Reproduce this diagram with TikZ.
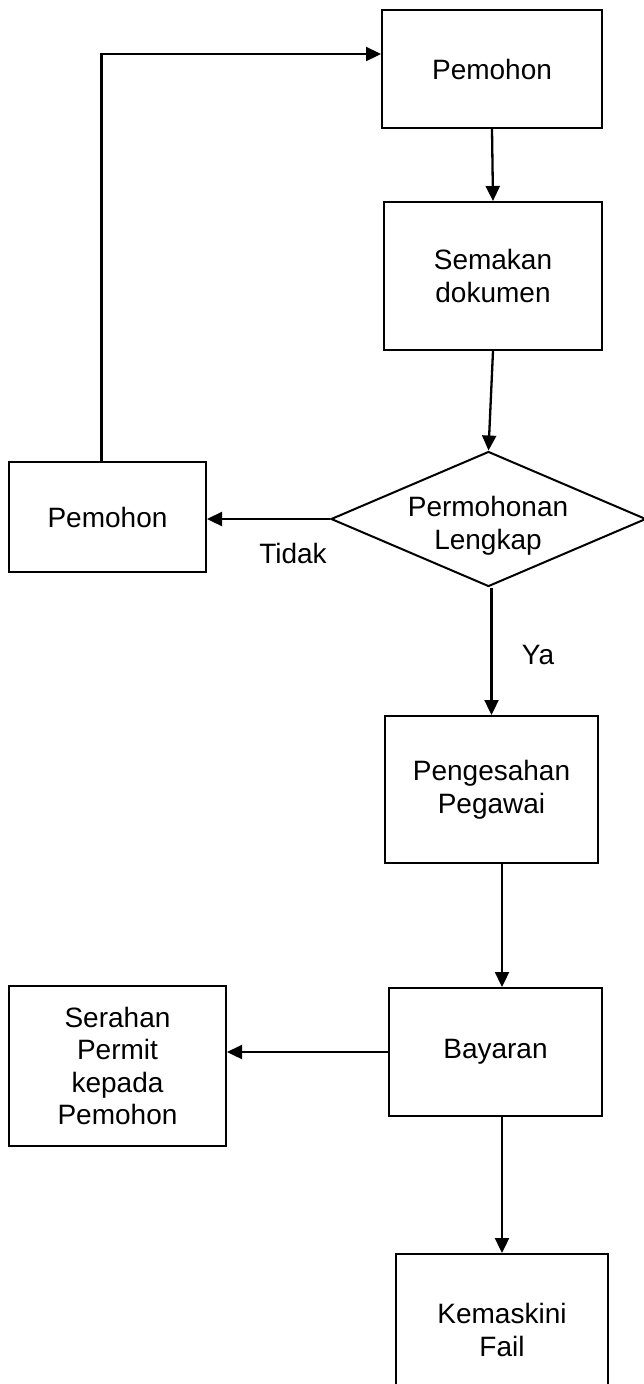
\documentclass[tikz,border=0pt]{standalone}
\usepackage{fontspec}
\setmainfont{Liberation Sans}
\usetikzlibrary{arrows.meta,shapes.geometric}
\begin{document}
\begin{tikzpicture}[x=1pt,y=-1pt,
  txt/.style={font=\fontsize{28}{32.5}\selectfont,align=center},
  box/.style={txt,draw,line width=2pt,rectangle,inner sep=0pt},
  dec/.style={draw,line width=2pt,diamond,inner sep=0pt},
  conn/.style={line width=2.3pt,-{Triangle[length=15pt,width=14pt]}}]
\clip (0,0) rectangle (644,1384);
\fill[white] (0,0) rectangle (644,1384);
% nodes
\node[box,minimum width=220pt,minimum height=118pt] (p1) at (492,69) {Pemohon};
\node[box,minimum width=218pt,minimum height=148pt] (sem) at (493,276) {Semakan\\dokumen};
\node[dec,minimum width=315pt,minimum height=135pt] (dia) at (488.5,519) {};
\node[txt] (diatext) at (488,526) {Permohonan\\Lengkap};
\node[box,minimum width=197pt,minimum height=110pt] (p2) at (107.5,517) {Pemohon};
\node[box,minimum width=213pt,minimum height=147pt] (pen) at (491.5,789.5) {Pengesahan\\Pegawai};
\node[box,minimum width=213pt,minimum height=128pt] (bay) at (495.5,1052) {Bayaran};
\node[box,minimum width=217pt,minimum height=160pt] (ser) at (117.5,1066) {Serahan\\Permit\\kepada\\Pemohon};
\node[box,minimum width=212pt,minimum height=152pt] (kem) at (502,1330) {Kemaskini\\Fail};
\node[txt] (tidak) at (293,553) {Tidak};
\node[txt] (ya) at (538,655) {Ya};
% helper coordinates
\coordinate (fb) at (101.5,54);
\coordinate (ax) at (502,0);
% connectors
\draw[conn] (p1.south) -- (sem.north);
\draw[conn] (sem.south) -- (dia.north);
\draw[conn] (dia.west) -- (dia.west -| p2.east);
\draw[conn] (pen.north |- dia.south) -- (pen.north);
\draw[conn] (pen.south -| ax) -- (bay.north -| ax);
\draw[conn] (bay.west) -- (bay.west -| ser.east);
\draw[conn] (bay.south -| ax) -- (kem.north -| ax);
\draw[conn] (fb |- p2.north) -- (fb) -- (fb -| p1.west);
\end{tikzpicture}
\end{document}
